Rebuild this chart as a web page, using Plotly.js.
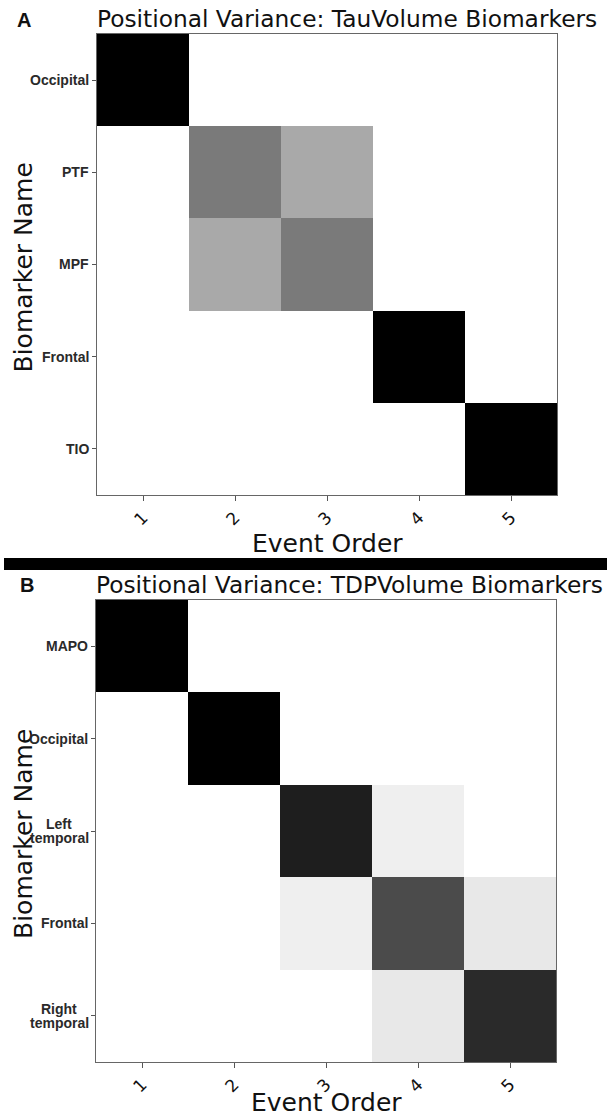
<!DOCTYPE html>
<html><head><meta charset="utf-8">
<script src="https://cdn.plot.ly/plotly-3.0.1.min.js"></script>
<style>html,body{margin:0;padding:0;background:#fff}#chart{width:607px;height:1119px}</style>
</head><body><div id="chart"></div>
<script>
// ---- data ----
const eventOrder = [1, 2, 3, 4, 5];

const tauTitle = 'Positional Variance: TauVolume Biomarkers';
const tauBiomarkers = ['Occipital', 'PTF', 'MPF', 'Frontal', 'TIO'];
const tauOccipital = [1, 0, 0, 0, 0];
const tauPTF       = [0, 0.6, 0.44, 0, 0];
const tauMPF       = [0, 0.44, 0.6, 0, 0];
const tauFrontal   = [0, 0, 0, 1, 0];
const tauTIO       = [0, 0, 0, 0, 1];

const tdpTitle = 'Positional Variance: TDPVolume Biomarkers';
const tdpBiomarkers = ['MAPO', 'Occipital', 'Left temporal', 'Frontal', 'Right temporal'];
const tdpMAPO          = [1, 0, 0, 0, 0];
const tdpOccipital     = [0, 1, 0, 0, 0];
const tdpLeftTemporal  = [0, 0, 0.9, 0.13, 0];
const tdpFrontal       = [0, 0, 0.13, 0.77, 0.17];
const tdpRightTemporal = [0, 0, 0, 0.17, 0.86];

// ---- style ----
const W = 607, H = 1119;
const px = x => x / W;
const py = y => 1 - y / H;
const greys = [
  [0, '#ffffff'], [0.125, '#f0f0f0'], [0.25, '#d9d9d9'], [0.375, '#bdbdbd'],
  [0.5, '#969696'], [0.625, '#737373'], [0.75, '#525252'], [0.875, '#252525'], [1, '#000000']
];
const TITLE_FONT = 'DejaVu Sans, sans-serif';
const LABEL_FONT = 'Liberation Sans, Arial, sans-serif';

const panels = [
  { letter: 'A', title: tauTitle, cats: tauBiomarkers,
    z: [tauOccipital, tauPTF, tauMPF, tauFrontal, tauTIO],
    left: 97, right: 557, top: 34, bottom: 495, xa: 'x', ya: 'y', xt: 48 },
  { letter: 'B', title: tdpTitle, cats: tdpBiomarkers,
    z: [tdpMAPO, tdpOccipital, tdpLeftTemporal, tdpFrontal, tdpRightTemporal],
    left: 96, right: 556, top: 600, bottom: 1062, xa: 'x2', ya: 'y2', xt: 40 }
];

const data = [];
const layout = {
  width: W, height: H,
  margin: { l: 0, r: 0, t: 0, b: 0 },
  paper_bgcolor: '#fff', plot_bgcolor: '#fff',
  showlegend: false,
  annotations: [],
  shapes: [{
    type: 'rect', xref: 'paper', yref: 'paper',
    x0: px(4), x1: 1, y0: py(570), y1: py(558),
    fillcolor: '#000', line: { width: 0 }
  }]
};

panels.forEach((p, i) => {
  const sfx = i === 0 ? '' : '2';
  data.push({
    type: 'heatmap', x: eventOrder, y: p.cats, z: p.z,
    colorscale: greys, zmin: 0, zmax: 1, showscale: false,
    xaxis: p.xa, yaxis: p.ya, xgap: 0, ygap: 0, hoverinfo: 'x+y+z'
  });
  layout['xaxis' + sfx] = {
    domain: [px(p.left), px(p.right)], anchor: p.ya,
    range: [0.5, 5.5], tickvals: eventOrder, ticktext: eventOrder.map(String),
    ticks: 'outside', ticklen: 5, tickwidth: 1, tickcolor: '#555',
    showline: true, linecolor: '#666', linewidth: 1, mirror: true,
    showgrid: false, zeroline: false, tickangle: -45,
    tickfont: { family: TITLE_FONT, size: 17, color: '#111' }
  };
  layout['yaxis' + sfx] = {
    domain: [py(p.bottom), py(p.top)], anchor: p.xa,
    type: 'category', categoryarray: p.cats, categoryorder: 'array',
    range: [p.cats.length - 0.5, -0.5],
    ticks: 'outside', ticklen: 4, tickwidth: 1, tickcolor: '#555',
    showticklabels: false,
    showline: true, linecolor: '#666', linewidth: 1, mirror: true,
    showgrid: false, zeroline: false
  };
  // panel letter
  layout.annotations.push({
    xref: 'paper', yref: 'paper', x: px(i === 0 ? 24.5 : 26.5), y: py(i === 0 ? 19.5 : 585),
    xanchor: 'center', yanchor: 'middle', showarrow: false, text: p.letter,
    font: { family: LABEL_FONT, size: 20, color: '#111', weight: 'bold' }
  });
  // panel title
  layout.annotations.push({
    xref: 'paper', yref: 'paper', x: px(p.left - 2), y: py(p.top - 16),
    xanchor: 'left', yanchor: 'middle', showarrow: false, text: p.title,
    font: { family: TITLE_FONT, size: 23.3, color: '#111' }
  });
  // x axis title
  layout.annotations.push({
    xref: 'paper', yref: 'paper', x: px((p.left + p.right) / 2), y: py(p.bottom + p.xt),
    xanchor: 'center', yanchor: 'middle', showarrow: false, text: 'Event Order',
    font: { family: TITLE_FONT, size: 25, color: '#111' }
  });
  // y axis title
  layout.annotations.push({
    xref: 'paper', yref: 'paper', x: px(23), y: py((p.top + p.bottom) / 2 + 3),
    xanchor: 'center', yanchor: 'middle', showarrow: false, text: 'Biomarker Name',
    textangle: -90,
    font: { family: TITLE_FONT, size: 25, color: '#111' }
  });
  // y tick labels (centered multi-line, right aligned to ticks)
  p.cats.forEach(c => {
    const lines = c.split(' ');
    lines.forEach((ln, k) => {
      layout.annotations.push({
        xref: 'paper', yref: p.ya, x: px(p.left - 6), y: c,
        xanchor: lines.length > 1 ? 'center' : 'right', yanchor: 'middle', showarrow: false,
        text: ln, yshift: ((lines.length - 1) / 2 - k) * 14,
        xshift: lines.length > 1 ? -31 : 0,
        font: { family: LABEL_FONT, size: 14, color: '#2a2a2a', weight: 'bold' }
      });
    });
  });
});

Plotly.newPlot('chart', data, layout, { staticPlot: true, displayModeBar: false });
</script>
</body></html>
